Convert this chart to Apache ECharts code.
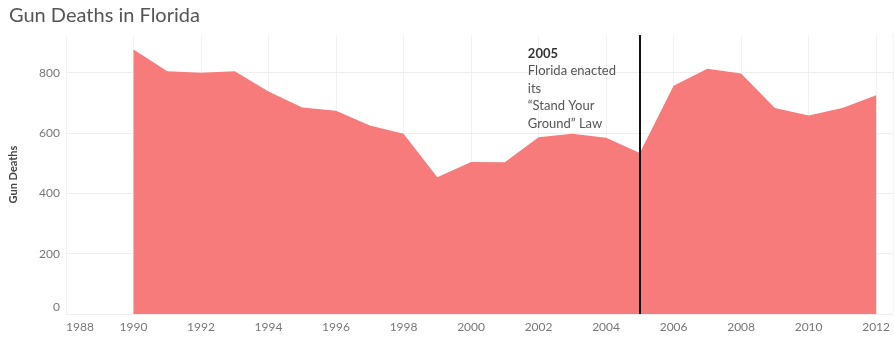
<!DOCTYPE html>
<html>
<head>
<meta charset="utf-8">
<script src="https://cdn.jsdelivr.net/npm/echarts@6/dist/echarts.min.js"></script>
<style>
  html, body { margin: 0; padding: 0; background: #fff; }
  #chart { width: 894px; height: 340px; }
</style>
</head>
<body>
<div id="chart"></div>
<script>
// Annual gun deaths in Florida
const years = [1990, 1991, 1992, 1993, 1994, 1995, 1996, 1997, 1998, 1999, 2000,
               2001, 2002, 2003, 2004, 2005, 2006, 2007, 2008, 2009, 2010, 2011, 2012];
const gunDeaths = [877, 805, 800, 805, 738, 685, 674, 625, 598, 453, 504,
                   503, 586, 598, 584, 534, 757, 813, 797, 683, 658, 683, 725];
const yTicks = [0, 200, 400, 600, 800];
const lawYear = 2005;
const lawNote = ['Florida enacted', 'its', '\u201CStand Your', 'Ground\u201D Law'];

const FONT = 'Lato, "Open Sans", sans-serif';
const chart = echarts.init(document.getElementById('chart'));

chart.setOption({
  animation: false,
  backgroundColor: '#fff',
  title: {
    text: 'Gun Deaths in Florida',
    left: 4, top: 1,
    textStyle: { fontFamily: FONT, fontSize: 20, fontWeight: 'normal', color: '#555' }
  },
  grid: { left: 66, right: 1, top: 35, bottom: 26 },
  xAxis: {
    type: 'value',
    min: 1988, max: 2012.5, interval: 2,
    axisLine: { show: false },
    axisTick: { show: false },
    splitLine: { show: true, lineStyle: { color: '#f2f2f2', width: 1 } },
    axisLabel: {
      fontFamily: FONT, fontSize: 12, color: '#777', margin: 7,
      alignMinLabel: 'left', showMaxLabel: false,
      formatter: v => (Number.isInteger(v) && v % 2 === 0) ? String(v) : ''
    }
  },
  yAxis: {
    type: 'value',
    min: 0, max: 925, interval: 200,
    name: 'Gun Deaths',
    nameLocation: 'middle',
    nameGap: 47,
    nameTextStyle: { fontFamily: FONT, fontSize: 11, fontWeight: 'bold', color: '#444' },
    axisLine: { show: false },
    axisTick: { show: false },
    splitLine: { show: false },
    axisLabel: {
      fontFamily: FONT, fontSize: 12, color: '#777', margin: 6, showMaxLabel: false,
      formatter: v => yTicks.includes(v) ? (v === 0 ? '{z|0}' : String(v)) : '',
      rich: { z: { fontFamily: FONT, fontSize: 12, color: '#777', padding: [0, 0, 14, 0] } }
    }
  },
  series: [
    {
      // horizontal gridlines at the labelled ticks only, kept behind the area
      type: 'line',
      data: [],
      z: 1,
      markLine: {
        silent: true,
        z: 1,
        symbol: 'none',
        label: { show: false },
        lineStyle: { color: '#eeeeee', width: 1, type: 'solid' },
        data: yTicks.map(v => ({ yAxis: v }))
      }
    },
    {
      type: 'line',
      z: 3,
      data: years.map((y, i) => [y, gunDeaths[i]]),
      symbol: 'none',
      lineStyle: { width: 0 },
      areaStyle: { color: '#f77b7b', opacity: 1 },
      markLine: {
        silent: true,
        z: 5,
        symbol: 'none',
        label: { show: false },
        lineStyle: { color: '#111', width: 2, type: 'solid' },
        data: [{ xAxis: lawYear }]
      },
      markPoint: {
        silent: true,
        symbol: 'rect',
        symbolSize: 0,
        data: [{ coord: [lawYear, 893] }],
        label: {
          show: true,
          position: 'inside',
          align: 'left',
          verticalAlign: 'top',
          offset: [-112, 0],
          formatter: () => '{b|' + lawYear + '}\n' + lawNote.map(s => '{n|' + s + '}').join('\n'),
          rich: {
            b: { fontFamily: FONT, fontSize: 13, fontWeight: 'bold', color: '#333', lineHeight: 17.5 },
            n: { fontFamily: FONT, fontSize: 13, color: '#555', lineHeight: 17.5 }
          }
        }
      }
    }
  ]
});
</script>
</body>
</html>
